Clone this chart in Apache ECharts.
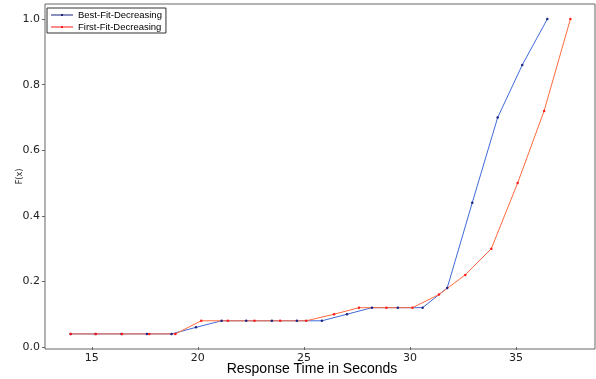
<!DOCTYPE html>
<html>
<head>
<meta charset="utf-8">
<script src="https://cdn.jsdelivr.net/npm/echarts@6/dist/echarts.min.js"></script>
<style>
html,body{margin:0;padding:0;background:#fff;}
#chart{width:596px;height:379px;}
</style>
</head>
<body>
<div id="chart"></div>
<script>
const bestX = [14.0, 15.18, 16.4, 17.6, 18.76, 19.91, 21.12, 22.28, 23.49, 24.67, 25.85, 27.03, 28.21, 29.43, 30.6, 31.76, 32.94, 34.14, 35.3, 36.48];
const bestY = [0.04, 0.04, 0.04, 0.04, 0.04, 0.06, 0.08, 0.08, 0.08, 0.08, 0.08, 0.10, 0.12, 0.12, 0.12, 0.18, 0.44, 0.70, 0.86, 1.0];
const firstX = [14.0, 15.19, 16.42, 17.71, 18.94, 20.16, 21.41, 22.67, 23.88, 25.11, 26.42, 27.6, 28.89, 30.12, 31.37, 32.61, 33.84, 35.08, 36.33, 37.57];
const firstY = [0.04, 0.04, 0.04, 0.04, 0.04, 0.08, 0.08, 0.08, 0.08, 0.08, 0.10, 0.12, 0.12, 0.12, 0.16, 0.22, 0.30, 0.50, 0.72, 1.0];
const xTicks = [15, 20, 25, 30, 35];
const yTicks = [0, 0.2, 0.4, 0.6, 0.8, 1.0];

const chart = echarts.init(document.getElementById('chart'));
const font = 'DejaVu Sans';
const sans = 'Liberation Sans';
const legendIcon = 'path://M0,4.6L22,4.6L22,5.4L0,5.4Z M10,4L12,4L12,6L10,6Z';
chart.setOption({
  animation: false,
  backgroundColor: '#fff',
  grid: {left: 45, right: 1, top: 4, bottom: 30, outerBoundsMode: 'none', containLabel: false,
         show: true, borderColor: '#666', borderWidth: 1, backgroundColor: 'transparent'},
  legend: {
    left: 47, top: 8, orient: 'vertical', itemGap: 2, itemWidth: 22, itemHeight: 10,
    padding: [2, 4, 1, 4],
    borderColor: '#333', borderWidth: 1, borderRadius: 0,
    backgroundColor: '#fff',
    textStyle: {fontFamily: sans, fontSize: 9.5, color: '#000'},
    data: [{name: 'Best-Fit-Decreasing', icon: legendIcon}, {name: 'First-Fit-Decreasing', icon: legendIcon}]
  },
  xAxis: {
    type: 'value', min: 12.79, max: 38.73,
    name: 'Response Time in Seconds', nameLocation: 'middle', nameGap: 13, nameMoveOverlap: false,
    nameTextStyle: {fontFamily: sans, fontSize: 14, color: '#000', padding: [0, 16, 0, 0]},
    axisLine: {show: false},
    axisTick: {show: true, length: 3, lineStyle: {color: '#666'}, customValues: xTicks},
    axisLabel: {fontFamily: font, fontSize: 11, color: '#222', margin: 4, customValues: xTicks, formatter: v => String(v)},
    splitLine: {show: false}
  },
  yAxis: {
    type: 'value', min: -0.006, max: 1.046,
    name: 'F(x)', nameLocation: 'middle', nameGap: 21, nameRotate: 90, nameMoveOverlap: false,
    nameTextStyle: {fontFamily: font, fontSize: 8, color: '#222'},
    axisLine: {show: false},
    axisTick: {show: true, length: 3, lineStyle: {color: '#666'}, customValues: yTicks},
    axisLabel: {fontFamily: font, fontSize: 11, color: '#222', margin: 5, customValues: yTicks, formatter: v => v.toFixed(1)},
    splitLine: {show: false}
  },
  series: [
    {
      name: 'Best-Fit-Decreasing', type: 'line',
      data: bestX.map((x, i) => [x, bestY[i]]),
      symbol: 'circle', symbolSize: 2.5, showSymbol: true,
      itemStyle: {color: '#1a237e'},
      lineStyle: {color: '#3f6ad8', width: 1}
    },
    {
      name: 'First-Fit-Decreasing', type: 'line',
      data: firstX.map((x, i) => [x, firstY[i]]),
      symbol: 'circle', symbolSize: 2.5, showSymbol: true,
      itemStyle: {color: '#ff1a1a'},
      lineStyle: {color: '#ff6a3d', width: 1}
    }
  ]
});
</script>
</body>
</html>
